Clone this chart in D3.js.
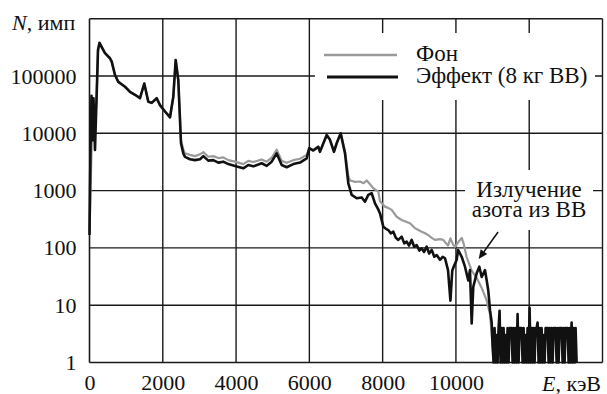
<!DOCTYPE html>
<html>
<head>
<meta charset="utf-8">
<script src="https://cdn.jsdelivr.net/npm/d3@7"></script>
<style>
body { margin: 0; background: #fff; }
text { font-family: "Liberation Serif", "Times New Roman", serif; fill: #111; }
</style>
</head>
<body>
<div id="chart"></div>
<script>
// tick values
var yTicks = [1, 10, 100, 1000, 10000, 100000];
var xTicks = [0, 2000, 4000, 6000, 8000, 10000];
var xGrid = [2000, 4000, 6000, 8000, 10000, 12000];

// background spectrum, [E keV, counts]
var background = [
    [0, 200], [40, 2000], [80, 20000], [120, 9000], [190, 35000], [232, 280000], [273, 370000],
    [423, 250000], [559, 204000], [606, 178000], [696, 104000], [786, 79000], [969, 65000],
    [1105, 53000], [1242, 47000], [1378, 41000], [1495, 74000], [1605, 35500], [1697, 34000],
    [1834, 41000], [1924, 31000], [2061, 24000], [2197, 19000], [2287, 43500], [2352, 190000],
    [2423, 85000], [2497, 7500], [2560, 5200], [2606, 4500], [2743, 4200], [2879, 4000],
    [3016, 4300], [3106, 4700], [3242, 3900], [3378, 4000], [3515, 3700], [3651, 3800],
    [3788, 3400], [3971, 3200], [4197, 2900], [4334, 3300], [4470, 3150], [4699, 3500],
    [4836, 3200], [4972, 3750], [5109, 5200], [5245, 3300], [5382, 3050], [5562, 3400],
    [5745, 3600], [5927, 4200], [5998, 5500], [6107, 5100], [6244, 5900], [6290, 4900],
    [6473, 9300], [6563, 7700], [6672, 4900], [6746, 6800], [6855, 10000], [6973, 4800],
    [7063, 1800], [7110, 1500], [7250, 1420], [7383, 1440], [7480, 1350], [7565, 1500],
    [7650, 1300], [7745, 1100], [7881, 960], [7928, 650], [8064, 525], [8150, 500],
    [8247, 460], [8383, 350], [8520, 307], [8620, 290], [8747, 270], [8884, 220],
    [9066, 192], [9160, 180], [9246, 167], [9340, 150], [9429, 138], [9560, 142],
    [9655, 138], [9730, 120], [9784, 110], [9850, 147], [9920, 115], [9980, 105],
    [10060, 125], [10157, 150], [10210, 120], [10290, 70], [10430, 40], [10566, 30],
    [10703, 20], [10840, 12], [10930, 7], [11000, 2], [11030, 1]
];

// effect spectrum (8 kg explosive), [E keV, counts]
var effect = [
    [0, 168], [27, 5100], [55, 45000], [82, 7600], [109, 41000], [150, 5100], [191, 38000],
    [232, 285000], [273, 380000], [423, 250000], [559, 204000], [606, 178000], [696, 104000],
    [786, 79000], [969, 65000], [1105, 53000], [1242, 47000], [1378, 41000], [1495, 74000],
    [1605, 35500], [1697, 34000], [1834, 41000], [1924, 31000], [2061, 24000], [2197, 19000],
    [2287, 43500], [2352, 190000], [2423, 85000], [2497, 6700], [2560, 4460], [2606, 3880],
    [2743, 3530], [2879, 3400], [3016, 3530], [3106, 4000], [3242, 3330], [3378, 3400],
    [3515, 3080], [3651, 3200], [3788, 2900], [3971, 2700], [4197, 2450], [4334, 2800],
    [4470, 2650], [4699, 3000], [4836, 2700], [4972, 3200], [5109, 4460], [5245, 2800],
    [5382, 2560], [5562, 2900], [5745, 3080], [5927, 3650], [5998, 5500], [6107, 5000],
    [6244, 5800], [6290, 4750], [6473, 9300], [6563, 7700], [6672, 4750], [6746, 6700],
    [6855, 10000], [6973, 4460], [7063, 1340], [7155, 840], [7292, 735], [7428, 760],
    [7518, 640], [7608, 840], [7701, 900], [7791, 600], [7880, 470], [7928, 400],
    [8018, 235], [8090, 215], [8154, 205], [8220, 180], [8291, 192], [8360, 150],
    [8427, 138], [8520, 157], [8590, 120], [8656, 129], [8720, 110], [8793, 138],
    [8860, 105], [8929, 112], [9000, 90], [9066, 98], [9130, 85], [9202, 105],
    [9270, 80], [9339, 92], [9410, 70], [9475, 75], [9565, 62], [9640, 70],
    [9702, 66], [9784, 41], [9850, 12], [9900, 40], [9928, 45], [10021, 62],
    [10058, 92], [10157, 70], [10247, 47], [10337, 27], [10383, 41], [10430, 4.8],
    [10474, 21], [10566, 36], [10638, 47], [10703, 31], [10793, 41], [10840, 27],
    [10883, 18], [10930, 8.2], [10976, 5]
];

// channel counts after 11000 keV (near the noise floor)
var tailStart = 11000, tailStep = 27.3;
var effectTail = [
    2, 1, 4, 1, 3, 1, 4, 8, 1, 4,
    1, 4, 1, 3, 1, 4, 1, 4, 4, 4,
    1, 4, 1, 4, 1, 7, 1, 4, 4, 4,
    1, 4, 1, 3, 1, 4, 1, 9, 1, 4,
    1, 4, 1, 4, 4, 5, 1, 4, 1, 4,
    1, 3, 1, 4, 4, 4, 1, 4, 1, 4,
    1, 4, 4, 4, 1, 4, 1, 4, 4, 4,
    1, 4, 1, 4, 4, 4, 1, 4, 1, 5,
    1, 4, 1, 4, 1
];

var legendNames = ["Фон", "Эффект (8 кг ВВ)"];
var noteLines = ["Излучение", "азота из ВВ"];

var serif = '"Liberation Serif", "Times New Roman", serif';

dim = {
    'width': 607,
    'height': 394,
    'left': 89.5,
    'right': 4.5,
    'top': 18.7,
    'bottom': 31.5
};

var svg = d3.select("#chart").append('svg')
    .attr('width', dim.width)
    .attr('height', dim.height);

var xScale = d3.scaleLinear()
    .domain([0, 14000])
    .range([dim.left, dim.width - dim.right]);
var yScale = d3.scaleLog()
    .domain([1, 1000000])
    .range([dim.height - dim.bottom, dim.top]);

// grid
var grid = svg.append('g');
grid.selectAll('.vg').data(xGrid).enter().append('line')
    .attr('x1', d => xScale(d)).attr('x2', d => xScale(d))
    .attr('y1', yScale(1)).attr('y2', yScale(1000000))
    .attr('stroke', '#1a1a1a').attr('stroke-width', 1.4);
grid.selectAll('.hg').data(yTicks.concat([1000000])).enter().append('line')
    .attr('x1', xScale(0)).attr('x2', xScale(14000))
    .attr('y1', d => yScale(d)).attr('y2', d => yScale(d))
    .attr('stroke', '#1a1a1a').attr('stroke-width', 1.4);
grid.append('line')
    .attr('x1', xScale(0)).attr('x2', xScale(0))
    .attr('y1', yScale(1)).attr('y2', yScale(1000000))
    .attr('stroke', '#1a1a1a').attr('stroke-width', 1.6);
grid.append('line')
    .attr('x1', xScale(14000)).attr('x2', xScale(14000))
    .attr('y1', yScale(1)).attr('y2', yScale(1000000))
    .attr('stroke', '#1a1a1a').attr('stroke-width', 1.4);

// white boxes behind legend and note
svg.append('rect').attr('x', 315).attr('y', 33).attr('width', 280).attr('height', 67).attr('fill', '#fff');
svg.append('rect').attr('x', 465).attr('y', 170).attr('width', 128).attr('height', 60).attr('fill', '#fff');

// axes labels
var yAxis = d3.axisLeft(yScale).tickValues(yTicks).tickFormat(d3.format('d')).tickSize(0).tickPadding(13);
var xAxis = d3.axisBottom(xScale).tickValues(xTicks).tickFormat(d3.format('d')).tickSize(0).tickPadding(12);

var gy = svg.append('g').attr('transform', `translate(${dim.left},0)`).call(yAxis);
var gx = svg.append('g').attr('transform', `translate(0,${dim.height - dim.bottom})`).call(xAxis);
[gy, gx].forEach(g => {
    g.attr('font-family', null).attr('font-size', null);
    g.select('.domain').remove();
    g.selectAll('text').style('font-family', serif).style('font-size', '22px').attr('fill', '#111');
});

// spectra
var line = d3.line()
    .x(d => xScale(d[0]))
    .y(d => yScale(d[1]));

var effectAll = effect.concat(effectTail.map((n, i) => [tailStart + i * tailStep, n]));

svg.append('path')
    .datum(background)
    .attr('d', line)
    .attr('fill', 'none')
    .attr('stroke', '#9a9a9a')
    .attr('stroke-width', 2.2)
    .attr('stroke-linejoin', 'round');
svg.append('path')
    .datum(effectAll)
    .attr('d', line)
    .attr('fill', 'none')
    .attr('stroke', '#111')
    .attr('stroke-width', 2.6)
    .attr('stroke-linejoin', 'round');

// legend
var legendColors = ['#9a9a9a', '#111'];
var legendWidths = [2.6, 3];
legendNames.forEach((name, i) => {
    var yy = 55 + i * 22;
    svg.append('line')
        .attr('x1', 324 + i * 3).attr('x2', 397 + i)
        .attr('y1', yy).attr('y2', yy)
        .attr('stroke', legendColors[i]).attr('stroke-width', legendWidths[i]);
    svg.append('text')
        .attr('x', 416).attr('y', yy + 6)
        .style('font-family', serif)
        .style('font-size', '23px')
        .text(name);
});

// annotation
noteLines.forEach((t, i) => {
    svg.append('text')
        .attr('x', 529).attr('y', 197 + i * 20)
        .attr('text-anchor', 'middle')
        .style('font-family', serif)
        .style('font-size', '23px')
        .text(t);
});
var from = [xScale(11150), yScale(189)];
var to = [xScale(10620), yScale(64)];
var ang = Math.atan2(to[1] - from[1], to[0] - from[0]);
var headLen = 9, headW = 4;
var bx = to[0] - headLen * Math.cos(ang), by = to[1] - headLen * Math.sin(ang);
svg.append('line')
    .attr('x1', from[0]).attr('y1', from[1]).attr('x2', bx).attr('y2', by)
    .attr('stroke', '#111').attr('stroke-width', 1.5);
svg.append('path')
    .attr('d', `M${to[0]},${to[1]}L${bx + headW * Math.sin(ang)},${by - headW * Math.cos(ang)}L${bx - headW * Math.sin(ang)},${by + headW * Math.cos(ang)}Z`)
    .attr('fill', '#111');

// axis titles
var nt = svg.append('text').attr('x', 12).attr('y', 30).style('font-family', serif).style('font-size', '22px');
nt.append('tspan').style('font-style', 'italic').text('N');
nt.append('tspan').text(', имп');

var et = svg.append('text').attr('x', 601).attr('y', dim.height - dim.bottom + 28)
    .attr('text-anchor', 'end').style('font-family', serif).style('font-size', '22px');
et.append('tspan').style('font-style', 'italic').text('E');
et.append('tspan').text(', кэВ');
</script>
</body>
</html>
